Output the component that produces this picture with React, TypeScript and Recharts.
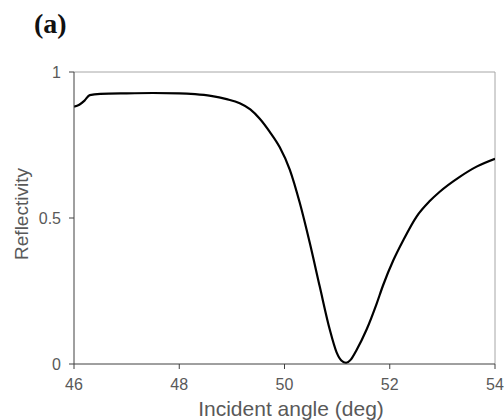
import React from "react";
import { LineChart, Line, XAxis, YAxis, ReferenceLine } from "recharts";

const angles = [
  46.0, 46.1, 46.2, 46.3, 46.5, 47.0, 47.5, 48.0, 48.3, 48.6, 48.9, 49.15, 49.35,
  49.53, 49.72, 49.91, 50.1, 50.29, 50.48, 50.67, 50.86, 50.99, 51.08, 51.17,
  51.26, 51.37, 51.56, 51.75, 51.87, 52.07, 52.26, 52.51, 52.76, 52.95, 53.33,
  53.65, 54.0,
];
const reflectivity = [
  0.881, 0.888, 0.902, 0.921, 0.925, 0.927, 0.928, 0.927, 0.924, 0.918, 0.907,
  0.893, 0.872, 0.84, 0.795, 0.742, 0.666, 0.552, 0.415, 0.265, 0.118, 0.04,
  0.012, 0.004, 0.015, 0.048, 0.118, 0.206, 0.268, 0.356, 0.425, 0.505, 0.558,
  0.59, 0.641, 0.676, 0.703,
];
const xTicks = [46, 48, 50, 52, 54];
const yTicks = [0, 0.5, 1];

const data = angles.map((a, i) => ({ angle: a, r: reflectivity[i] }));

const textGray = "#595959";
const tickStyle = { fontFamily: "Liberation Sans, Arial, sans-serif", fontSize: 16, fill: textGray };

export default function App() {
  return (
    <div style={{ position: "absolute", left: 0, top: 0, width: 504, height: 420, background: "#fff" }}>
      <LineChart width={504} height={420} data={data} margin={{ top: 72, right: 9, bottom: 26, left: 30 }}>
        <XAxis
          dataKey="angle"
          type="number"
          domain={[46, 54]}
          ticks={xTicks}
          height={30}
          tickSize={5}
          tickMargin={10}
          stroke="#404040"
          tick={tickStyle}
          allowDataOverflow
        />
        <YAxis
          type="number"
          domain={[0, 1]}
          ticks={yTicks}
          width={44}
          tickSize={5}
          tickMargin={8}
          stroke="#404040"
          tick={tickStyle}
        />
        <ReferenceLine y={1} stroke="#a6a6a6" strokeWidth={1} />
        <ReferenceLine x={54} stroke="#a6a6a6" strokeWidth={1} />
        <Line
          dataKey="r"
          type="monotone"
          stroke="#000"
          strokeWidth={2.2}
          dot={false}
          isAnimationActive={false}
        />
      </LineChart>
      <div
        style={{
          position: "absolute",
          left: 34,
          top: 8,
          fontFamily: "Liberation Serif, serif",
          fontWeight: "bold",
          fontSize: 28,
          lineHeight: "32px",
          color: "#111",
        }}
      >
        (a)
      </div>
      <div
        style={{
          position: "absolute",
          left: 191,
          width: 200,
          top: 397,
          textAlign: "center",
          fontFamily: "Liberation Sans, Arial, sans-serif",
          fontSize: 21,
          lineHeight: "24px",
          color: textGray,
          whiteSpace: "nowrap",
        }}
      >
        Incident angle (deg)
      </div>
      <div
        style={{
          position: "absolute",
          left: 22 - 60,
          top: 214 - 12,
          width: 120,
          height: 24,
          lineHeight: "24px",
          textAlign: "center",
          transform: "rotate(-90deg)",
          fontFamily: "Liberation Sans, Arial, sans-serif",
          fontSize: 19,
          color: textGray,
          whiteSpace: "nowrap",
        }}
      >
        Reflectivity
      </div>
    </div>
  );
}
